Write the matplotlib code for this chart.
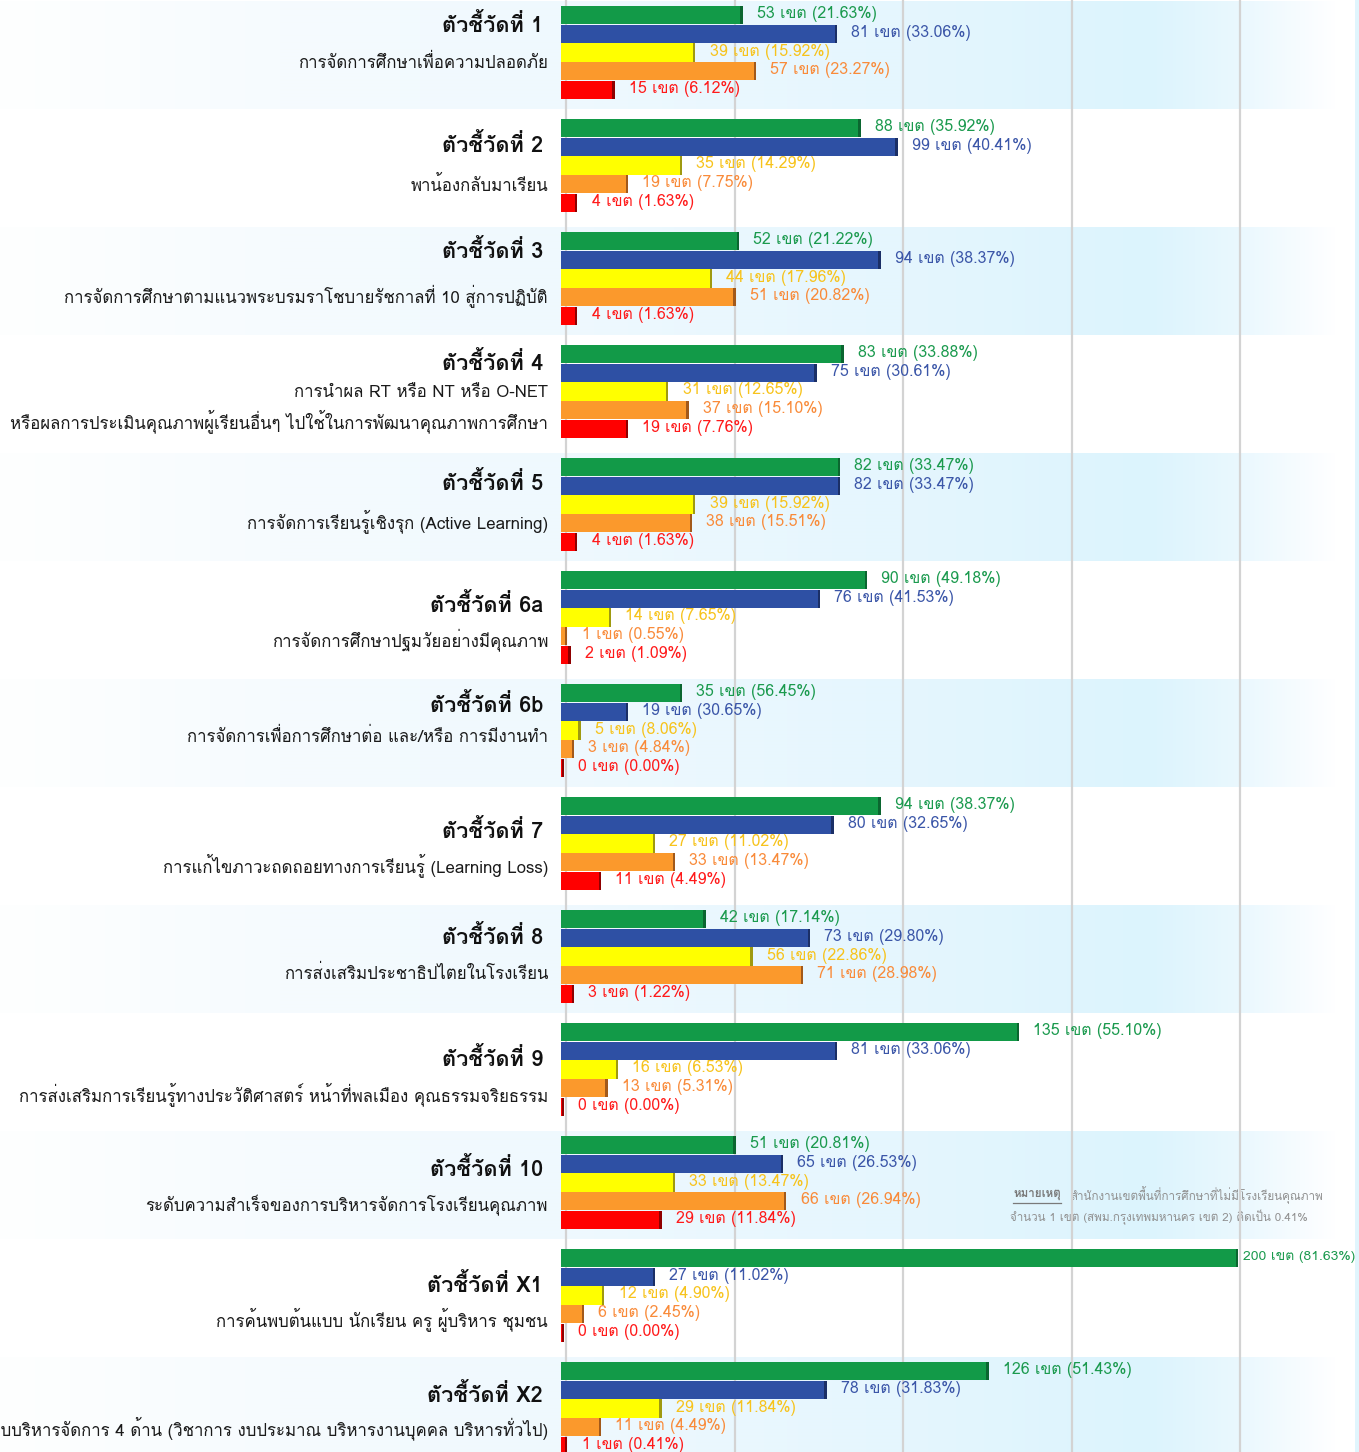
import numpy as np
import matplotlib
matplotlib.use("Agg")
import matplotlib.pyplot as plt
from matplotlib import font_manager as fm
from matplotlib.ft2font import FT2Font

# ---------------- data ----------------
titles = ["ตัวชี้วัดที่ 1", "ตัวชี้วัดที่ 2", "ตัวชี้วัดที่ 3", "ตัวชี้วัดที่ 4", "ตัวชี้วัดที่ 5",
          "ตัวชี้วัดที่ 6a", "ตัวชี้วัดที่ 6b", "ตัวชี้วัดที่ 7", "ตัวชี้วัดที่ 8", "ตัวชี้วัดที่ 9",
          "ตัวชี้วัดที่ 10", "ตัวชี้วัดที่ X1", "ตัวชี้วัดที่ X2"]
descs = [
    "การจัดการศึกษาเพื่อความปลอดภัย",
    "พาน้องกลับมาเรียน",
    "การจัดการศึกษาตามแนวพระบรมราโชบายรัชกาลที่ 10 สู่การปฏิบัติ",
    "การนำผล RT หรือ NT หรือ O-NET\nหรือผลการประเมินคุณภาพผู้เรียนอื่นๆ ไปใช้ในการพัฒนาคุณภาพการศึกษา",
    "การจัดการเรียนรู้เชิงรุก (Active Learning)",
    "การจัดการศึกษาปฐมวัยอย่างมีคุณภาพ",
    "การจัดการเพื่อการศึกษาต่อ และ/หรือ การมีงานทำ",
    "การแก้ไขภาวะถดถอยทางการเรียนรู้ (Learning Loss)",
    "การส่งเสริมประชาธิปไตยในโรงเรียน",
    "การส่งเสริมการเรียนรู้ทางประวัติศาสตร์ หน้าที่พลเมือง คุณธรรมจริยธรรม",
    "ระดับความสำเร็จของการบริหารจัดการโรงเรียนคุณภาพ",
    "การค้นพบต้นแบบ นักเรียน ครู ผู้บริหาร ชุมชน",
    "ระบบบริหารจัดการ 4 ด้าน (วิชาการ งบประมาณ บริหารงานบุคคล บริหารทั่วไป)",
]
green = [53, 88, 52, 83, 82, 90, 35, 94, 42, 135, 51, 200, 126]
green_pct = [21.63, 35.92, 21.22, 33.88, 33.47, 49.18, 56.45, 38.37, 17.14, 55.10, 20.81, 81.63, 51.43]
blue = [81, 99, 94, 75, 82, 76, 19, 80, 73, 81, 65, 27, 78]
blue_pct = [33.06, 40.41, 38.37, 30.61, 33.47, 41.53, 30.65, 32.65, 29.80, 33.06, 26.53, 11.02, 31.83]
yellow = [39, 35, 44, 31, 39, 14, 5, 27, 56, 16, 33, 12, 29]
yellow_pct = [15.92, 14.29, 17.96, 12.65, 15.92, 7.65, 8.06, 11.02, 22.86, 6.53, 13.47, 4.90, 11.84]
orange = [57, 19, 51, 37, 38, 1, 3, 33, 71, 13, 66, 6, 11]
orange_pct = [23.27, 7.75, 20.82, 15.10, 15.51, 0.55, 4.84, 13.47, 28.98, 5.31, 26.94, 2.45, 4.49]
red = [15, 4, 4, 19, 4, 2, 0, 11, 3, 0, 29, 0, 1]
red_pct = [6.12, 1.63, 1.63, 7.76, 1.63, 1.09, 0.00, 4.49, 1.22, 0.00, 11.84, 0.00, 0.41]
unit = "เขต"
grid_ticks = [0, 50, 100, 150, 200]
note_head = "หมายเหตุ"
note_line1 = "สำนักงานเขตพื้นที่การศึกษาที่ไม่มีโรงเรียนคุณภาพ"
note_line2 = "จำนวน 1 เขต (สพม.กรุงเทพมหานคร เขต 2) คิดเป็น 0.41%"

# ---------------- fonts ----------------
def find_thai_family():
    prefs = ["Tahoma", "Loma", "Garuda", "Noto Sans Thai Looped", "Noto Sans Thai",
             "Noto Sans Thai UI", "Tlwg Typo", "Kinnari", "Norasi", "Sawasdee", "Umpush",
             "Waree", "Laksaman", "TH Sarabun New", "Sarabun", "Arial Unicode MS", "FreeSans",
             "Noto Serif Thai"]
    found = {}
    for f in fm.fontManager.ttflist:
        try:
            cm = FT2Font(f.fname).get_charmap()
        except Exception:
            continue
        if 0x0E01 in cm and 0x0E35 in cm:
            found.setdefault(f.name, True)
    for p in prefs:
        if p in found:
            return p
    return next(iter(found), None)

thai = find_thai_family()
FAM = ([thai] if thai else []) + ["DejaVu Sans"]
plt.rcParams["font.family"] = FAM

# ---------------- layout ----------------
W, H = 1359, 1452
X0 = 566.0          # pixel of value 0
PPU = 3.37          # pixels per unit
PITCH = 113.0
TOP0 = 6.0
BAR_P = 18.6
TITLE_Y = [24, 145, 250, 363, 483, 605, 705, 831, 937, 1058, 1169, 1284, 1394]
DESC_Y = [[63], [185], [296], [393, 421], [521], [640], [737], [865], [974], [1094], [1205], [1319], [1428]]

series = [
    (green, green_pct, "#129a48", "#0b6630", "#1b9a4e"),
    (blue, blue_pct, "#2e50a4", "#1b2f66", "#3b56a8"),
    (yellow, yellow_pct, "#ffff00", "#9f9a10", "#f7c31c"),
    (orange, orange_pct, "#fb992c", "#a2591a", "#f98b3a"),
    (red, red_pct, "#ff0000", "#8f0000", "#ff1a1a"),
]

fig = plt.figure(figsize=(W / 100, H / 100), dpi=100)
fig.patch.set_facecolor("white")

# background / label axes in pixel coordinates
axb = fig.add_axes([0, 0, 1, 1], zorder=0)
axb.set_xlim(0, W)
axb.set_ylim(H, 0)
axb.set_axis_off()

stops_x = [0, 280, 560, 900, 1150, 1240, 1300, 1335, W]
stops_c = [(254, 255, 255), (246, 251, 254), (239, 249, 254), (229, 246, 254), (220, 244, 253),
           (234, 248, 254), (247, 252, 255), (255, 255, 255), (255, 255, 255)]
xs = np.arange(W)
grad = np.stack([np.interp(xs, stops_x, [c[k] for c in stops_c]) for k in range(3)], axis=-1) / 255.0
grad = grad[None, :, :]
n = len(titles)
for i in range(n):
    if i % 2 == 0:
        top = TOP0 + PITCH * i
        axb.imshow(grad, extent=[0, W, top + 103, top - 5], aspect="auto",
                   interpolation="bilinear", zorder=0)
axb.set_xlim(0, W)
axb.set_ylim(H, 0)
axb.axvspan(1355, W, color=(225 / 255, 245 / 255, 253 / 255), zorder=1, lw=0)

for i in range(n):
    axb.text(543, TITLE_Y[i], titles[i], ha="right", va="center", fontsize=15.7,
             fontweight="bold", color="#111111", zorder=3)
    lines = descs[i].split("\n")
    for line, yy in zip(lines, DESC_Y[i]):
        axb.text(548, yy, line, ha="right", va="center", fontsize=12.1,
                 color="#1a1a1a", zorder=3)

# note
fig.canvas.draw()
r = fig.canvas.get_renderer()
t0 = axb.text(1013, 1195, note_head, ha="left", va="center", fontsize=8.4,
              fontweight="bold", color="#7a7a7a", zorder=3)
bb = t0.get_window_extent(r)
x_end = bb.x1
axb.plot([1013, x_end], [1203, 1203], color="#7a7a7a", lw=0.9, zorder=3)
axb.text(x_end + 10, 1195, note_line1, ha="left", va="center", fontsize=8.4,
         color="#909090", zorder=3)
axb.text(1010, 1217, note_line2, ha="left", va="center", fontsize=8.4,
         color="#909090", zorder=3)

# bar axes: x in counts, y in pixels
ax = fig.add_axes([0, 0, 1, 1], zorder=1)
ax.patch.set_alpha(0)
ax.set_xlim(-X0 / PPU, (W - X0) / PPU)
ax.set_ylim(H, 0)
ax.set_axis_off()

for g in grid_ticks:
    ax.axvline(g, color="#d3d3d3", lw=1.6, zorder=1)

LEFT = -1.5
for i in range(n):
    top = TOP0 + PITCH * i
    for j, (vals, pcts, col, dark, tcol) in enumerate(series):
        v = vals[i]
        yc = top + BAR_P * j + BAR_P / 2
        w = v + 0.9
        ax.barh(yc, w, left=LEFT, height=BAR_P - 0.4, color=col, lw=0, zorder=2)
        ax.barh(yc, 0.7, left=LEFT + w - 0.7, height=BAR_P - 0.4, color=dark, lw=0, zorder=3)
        label = f"{v} {unit} ({pcts[i]:.2f}%)"
        end = LEFT + w
        if (X0 + end * PPU) + 14 + 125 > W:
            ax.text(end + 1.4, yc - 1, label, ha="left", va="center", fontsize=10.0,
                    color=tcol, zorder=4)
        else:
            ax.text(end + 4.2, yc - 1, label, ha="left", va="center", fontsize=11.5,
                    color=tcol, zorder=4)

fig.savefig("out.png", dpi=100, facecolor="white")
